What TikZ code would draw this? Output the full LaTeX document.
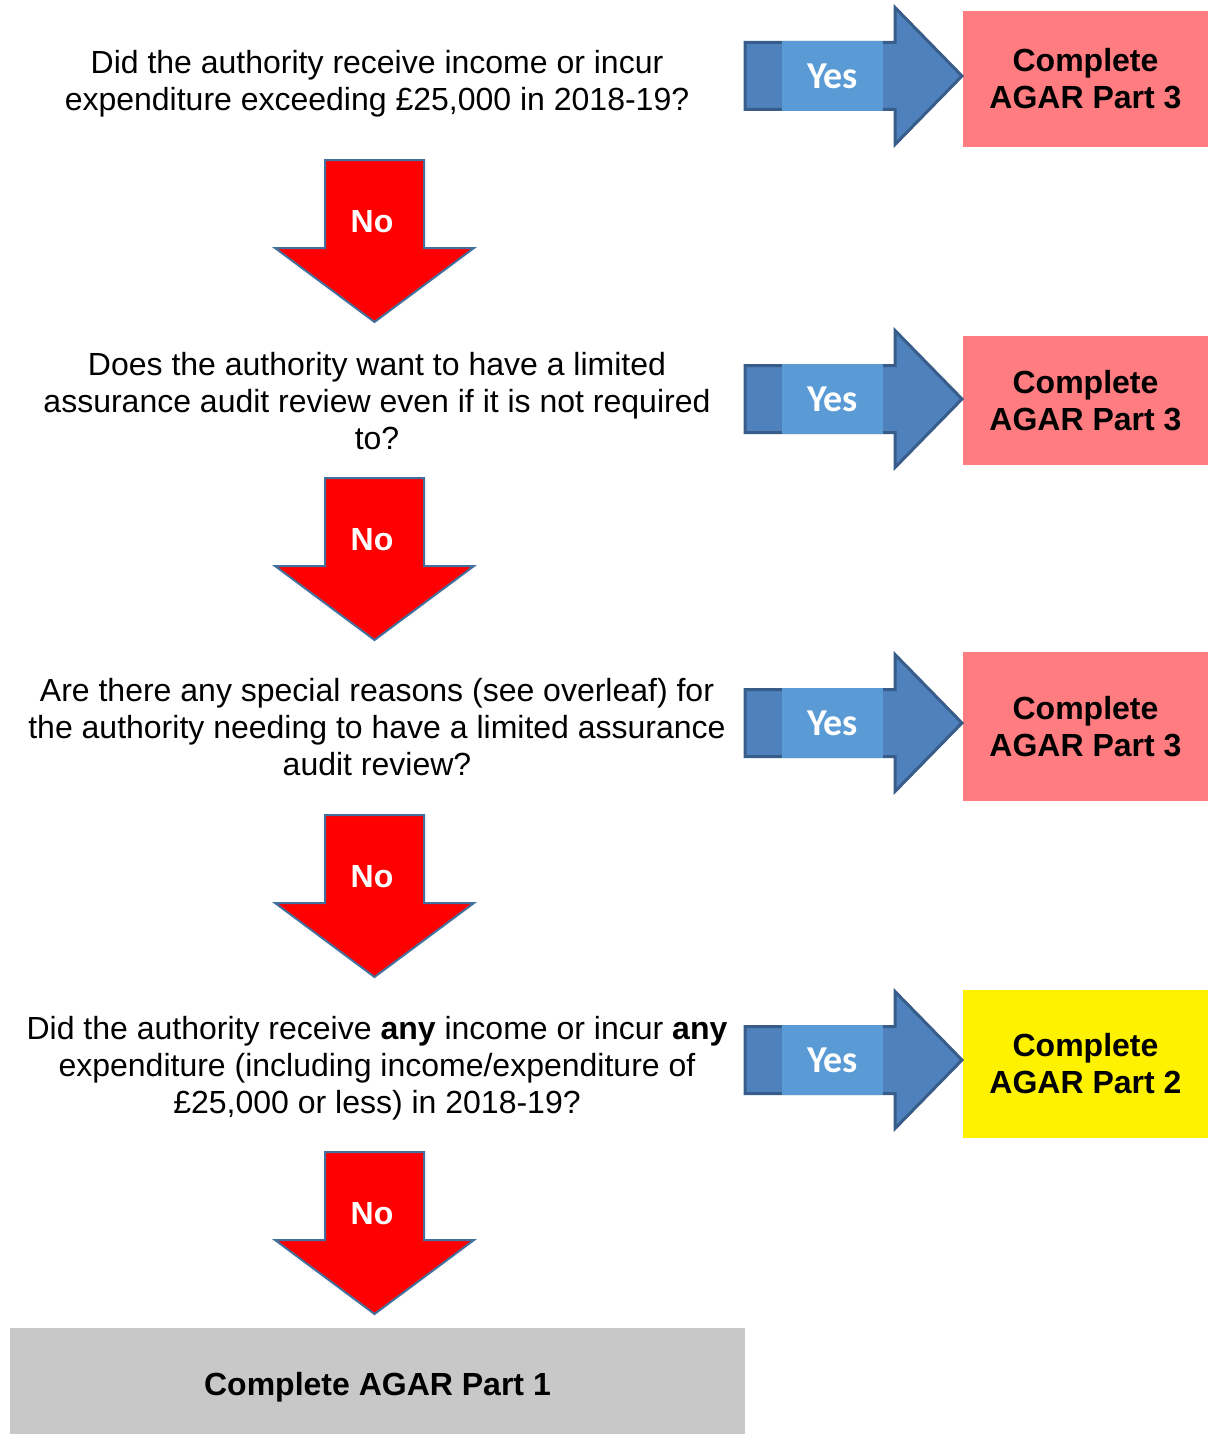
\documentclass[tikz,border=0pt]{standalone}
\usepackage{fontspec}
\setmainfont{Liberation Sans}
\newfontfamily\yesfont{Carlito}
\usepackage{xcolor}
\usetikzlibrary{positioning}

\definecolor{yesblue}{HTML}{4F81BD}
\definecolor{yesedge}{HTML}{385D8A}
\definecolor{yesfill}{HTML}{5B9BD5}
\definecolor{noedge}{HTML}{41719C}
\definecolor{partpink}{HTML}{FF7C80}
\definecolor{partgrey}{HTML}{C8C8C8}

\begin{document}
\begin{tikzpicture}[
    x=0.5pt, y=-0.5pt,
    question/.style={align=center, inner sep=0pt, font=\fontsize{16}{18.5}\selectfont},
    outcome/.style={rectangle, align=center, minimum width=122.5pt, font=\fontsize{16}{18.5}\selectfont\bfseries},
    yesarrow/.style={fill=yesblue, draw=yesedge, line width=1.5pt, line join=miter},
    yeslabel/.style={rectangle, fill=yesfill, minimum width=50.5pt, minimum height=35pt, text=white, font=\yesfont\fontsize{19}{20}\selectfont\bfseries},
    noarrow/.style={fill=red, draw=noedge, line width=1pt, line join=miter},
    nolabel/.style={text=white, font=\fontsize{16}{18}\selectfont\bfseries}
]
    \useasboundingbox (0,0) rectangle (1208,1434);

    % Questions
    \node[question] (q1) at (377,84) {Did the authority receive income or incur\\expenditure exceeding £25,000 in 2018-19?};
    \node[question] (q2) at (377,401) {Does the authority want to have a limited\\assurance audit review even if it is not required\\to?};
    \node[question] (q3) at (377,727) {Are there any special reasons (see overleaf) for\\the authority needing to have a limited assurance\\audit review?};
    \node[question] (q4) at (377,1068) {Did the authority receive \textbf{any} income or incur \textbf{any}\\expenditure (including income/expenditure of\\£25,000 or less) in 2018-19?};

    % Outcomes
    \node[outcome, fill=partpink, minimum height=68pt] (p1) at (1085.5,79) {Complete\\AGAR Part 3};
    \node[outcome, fill=partpink, minimum height=64.5pt] (p2) at (1085.5,400.5) {Complete\\AGAR Part 3};
    \node[outcome, fill=partpink, minimum height=74.5pt] (p3) at (1085.5,726.5) {Complete\\AGAR Part 3};
    \node[outcome, fill=yellow, minimum height=74pt] (p4) at (1085.5,1064) {Complete\\AGAR Part 2};
    \node[outcome, fill=partgrey, minimum width=367.5pt, minimum height=59pt] (p5) at (377.5,1387) {Complete AGAR Part 1};

    % Yes arrows
    \foreach \y [count=\i] in {76,399,723,1060} {
        \draw[yesarrow] (745,\y-33.5) -- (895,\y-33.5) -- (895,\y-68.5) -- (962,\y)
            -- (895,\y+68.5) -- (895,\y+33.5) -- (745,\y+33.5) -- cycle;
        \node[yeslabel] (yes\i) at (832.5,\y) {Yes};
    }

    % No arrows
    \foreach \t [count=\i] in {160,478,815,1152} {
        \draw[noarrow] (325,\t) -- (424,\t) -- (424,\t+88) -- (474,\t+88)
            -- (374.5,\t+162) -- (275,\t+88) -- (325,\t+88) -- cycle;
        \node[nolabel] (no\i) at (372,\t+62) {No};
    }
\end{tikzpicture}
\end{document}
